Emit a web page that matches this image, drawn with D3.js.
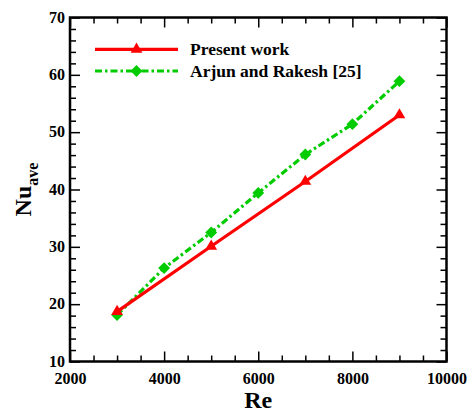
<!DOCTYPE html>
<html>
<head>
<meta charset="utf-8">
<script src="https://cdn.jsdelivr.net/npm/d3@7"></script>
<style>
  html, body { margin: 0; padding: 0; background: #fff; }
</style>
</head>
<body>
<svg id="chart" width="467" height="412"></svg>
<script>
// Reynolds numbers and average Nusselt numbers
const presentRe = [3000, 5000, 7000, 9000];
const presentNu = [18.7, 30.1, 41.4, 53.0];
const arjunRe = [3000, 4000, 5000, 6000, 7000, 8000, 9000];
const arjunNu = [18.1, 26.3, 32.5, 39.4, 46.1, 51.4, 58.9];
const xTicks = [2000, 4000, 6000, 8000, 10000];
const yTicks = [10, 20, 30, 40, 50, 60, 70];
const seriesNames = ["Present work", "Arjun and Rakesh [25]"];

const FONT = '"Liberation Serif", "Times New Roman", serif';
const svg = d3.select("#chart");
const m = { left: 70, right: 446.5, top: 17.5, bottom: 361.5 };

const x = d3.scaleLinear().domain([2000, 10000]).range([m.left, m.right]);
const y = d3.scaleLinear().domain([10, 70]).range([m.bottom, m.top]);

const minorX = d3.range(2000, 10001, 500).filter(v => v % 2000 !== 0);
const minorY = d3.range(10, 71, 2).filter(v => v % 10 !== 0);

function styleText(sel, size) {
  sel.style("font-family", FONT).style("font-weight", "bold")
    .style("font-size", size + "px").attr("fill", "#000");
}

// inward ticks on all four sides
function ticks(axisFn, scale, shift, vals, len, fmt) {
  return svg.append("g").attr("transform", shift)
    .call(axisFn(scale).tickValues(vals).tickSizeInner(-len).tickSizeOuter(0)
      .tickFormat(fmt || ""));
}

ticks(d3.axisBottom, x, `translate(0,${m.bottom})`, minorX, 6);
const gB = ticks(d3.axisBottom, x, `translate(0,${m.bottom})`, xTicks, 10, d3.format("d"));
gB.selectAll("text").attr("y", 22.5).attr("dy", 0).call(styleText, 16);

ticks(d3.axisTop, x, `translate(0,${m.top})`, minorX, 6);
ticks(d3.axisTop, x, `translate(0,${m.top})`, xTicks, 10);

ticks(d3.axisLeft, y, `translate(${m.left},0)`, minorY, 6);
const gL = ticks(d3.axisLeft, y, `translate(${m.left},0)`, yTicks, 10, d3.format("d"));
gL.selectAll("text").attr("x", -5).attr("dy", "0.3em").call(styleText, 16);

ticks(d3.axisRight, y, `translate(${m.right},0)`, minorY, 6);
ticks(d3.axisRight, y, `translate(${m.right},0)`, yTicks, 10);

svg.selectAll(".domain").remove();
svg.selectAll(".tick line").attr("stroke", "#000").attr("stroke-width", 1.5);

// frame
svg.append("rect")
  .attr("x", m.left).attr("y", m.top)
  .attr("width", m.right - m.left).attr("height", m.bottom - m.top)
  .attr("fill", "none").attr("stroke", "#000").attr("stroke-width", 2.5);

const red = "#ff0000", green = "#00cc00";
const dashDot = "7,3,2.5,3";

const line = d3.line().x(d => x(d[0])).y(d => y(d[1]));
const arjun = arjunRe.map((r, i) => [r, arjunNu[i]]);
const present = presentRe.map((r, i) => [r, presentNu[i]]);

svg.append("path").datum(arjun).attr("d", line)
  .attr("fill", "none").attr("stroke", green).attr("stroke-width", 3.2)
  .attr("stroke-dasharray", dashDot);
svg.append("path").datum(present).attr("d", line)
  .attr("fill", "none").attr("stroke", red).attr("stroke-width", 3.2);

const diamond = d3.symbol().type(d3.symbolSquare).size(70);
const tri = d3.symbol().type(d3.symbolTriangle).size(60);

svg.selectAll(".dia").data(arjun).join("path")
  .attr("transform", d => `translate(${x(d[0])},${y(d[1])}) rotate(45)`)
  .attr("d", diamond).attr("fill", green);
svg.selectAll(".tri").data(present).join("path")
  .attr("transform", d => `translate(${x(d[0])},${y(d[1])})`)
  .attr("d", tri).attr("fill", red);

// legend
const lg = svg.append("g");
const legendRows = [
  { name: seriesNames[0], color: red, dash: null, sym: tri, rot: 0, y: 49.3 },
  { name: seriesNames[1], color: green, dash: dashDot, sym: diamond, rot: 45, y: 71 }
];
legendRows.forEach(r => {
  lg.append("line").attr("x1", 95).attr("x2", 178).attr("y1", r.y).attr("y2", r.y)
    .attr("stroke", r.color).attr("stroke-width", 3.2)
    .attr("stroke-dasharray", r.dash);
  lg.append("path").attr("transform", `translate(136.5,${r.y}) rotate(${r.rot})`)
    .attr("d", r.sym).attr("fill", r.color);
  lg.append("text").attr("x", 190).attr("y", r.y + 5.5).text(r.name).call(styleText, 17.5);
});

// axis titles
svg.append("text").attr("x", (m.left + m.right) / 2).attr("y", 408)
  .attr("text-anchor", "middle").text("Re").call(styleText, 24);

const yt = svg.append("text")
  .attr("transform", `translate(31,${(m.top + m.bottom) / 2}) rotate(-90)`)
  .attr("text-anchor", "middle").call(styleText, 24);
yt.append("tspan").text("Nu");
yt.append("tspan").attr("dy", 7).style("font-size", "16px").text("ave");
</script>
</body>
</html>
